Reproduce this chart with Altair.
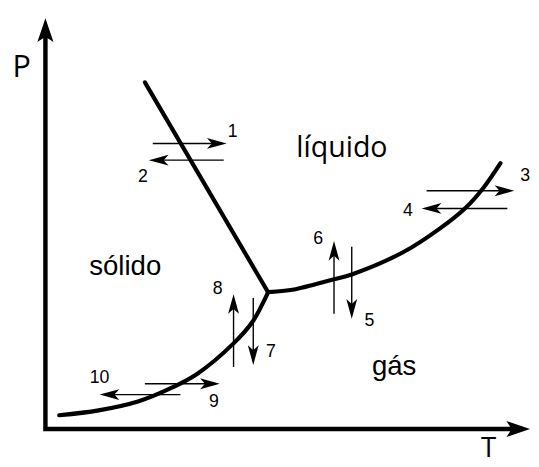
import altair as alt
import pandas as pd

# ---------------- data (diagram units: T to the right, P upward; origin = axes corner)
fusion_T = [101, 226]
fusion_P = [352, 139]
vapor_T = [226, 254, 274, 293, 311, 364, 401, 427, 444, 462]
vapor_P = [139, 142, 147, 152, 157, 180, 204, 225, 244, 270]
subl_T = [14, 54, 94, 124, 154, 191, 211, 226]
subl_P = [14, 19, 28, 40, 56, 87, 110, 139]

axis_T = [0, 0, 476]
axis_P = [399, 0, 0]
axis_tip_T = [0, 492]
axis_tip_P = [417, 0]
axis_tip_dir = ["up", "right"]

arrow_id = ["1", "2", "3", "4", "5", "6", "7", "8", "9", "10"]
arrow_tail_T = [109, 181, 387, 469, 311, 293, 211, 191, 101, 137]
arrow_tail_P = [290, 273, 242, 224, 185, 117, 133, 63, 46, 35]
arrow_tip_T = [184, 105, 476, 382, 311, 293, 211, 191, 177, 55]
arrow_tip_P = [290, 273, 242, 224, 112, 191, 65, 137, 46, 35]
arrow_dir = ["right", "left", "right", "left", "down", "up", "down", "up", "right", "left"]

num_label_T = [190, 99, 487, 368, 329, 277, 229, 175, 171, 55]
num_label_P = [302, 256, 257, 221, 110, 193, 78, 142, 27, 52]

phase_text = ["líquido", "sólido", "gás"]
phase_T = [301, 81, 354]
phase_P = [276, 156, 55]
phase_font = ["Open Sans", "Liberation Sans", "Liberation Sans"]
phase_size = [29, 28, 28]

axis_text = ["P", "T"]
axis_text_T = [-24, 450]
axis_text_P = [357, -28]
axis_text_size = [31, 28]

# ---------------- helper tables
DIRS = {"right": (1, 0, 0), "left": (-1, 0, 180), "up": (0, 1, 270), "down": (0, -1, 90)}

curves = pd.concat([
    pd.DataFrame({"curve": "fusion", "T": fusion_T, "P": fusion_P, "o": range(len(fusion_T))}),
    pd.DataFrame({"curve": "vapor", "T": vapor_T, "P": vapor_P, "o": range(len(vapor_T))}),
    pd.DataFrame({"curve": "subl", "T": subl_T, "P": subl_P, "o": range(len(subl_T))}),
])

axes_df = pd.DataFrame({"T": axis_T, "P": axis_P, "o": range(len(axis_T))})

AX_HALF = 12
axis_heads = pd.DataFrame({
    "T": [t - DIRS[d][0] * AX_HALF for t, d in zip(axis_tip_T, axis_tip_dir)],
    "P": [p - DIRS[d][1] * AX_HALF for p, d in zip(axis_tip_P, axis_tip_dir)],
    "ang": [DIRS[d][2] for d in axis_tip_dir],
})

HEAD_HALF = 10
arrows = pd.DataFrame({
    "id": arrow_id,
    "T0": arrow_tail_T,
    "P0": arrow_tail_P,
    "T1": [t - DIRS[d][0] * 12 for t, d in zip(arrow_tip_T, arrow_dir)],
    "P1": [p - DIRS[d][1] * 12 for p, d in zip(arrow_tip_P, arrow_dir)],
    "Tc": [t - DIRS[d][0] * HEAD_HALF for t, d in zip(arrow_tip_T, arrow_dir)],
    "Pc": [p - DIRS[d][1] * HEAD_HALF for p, d in zip(arrow_tip_P, arrow_dir)],
    "ang": [DIRS[d][2] for d in arrow_dir],
})

num_labels = pd.DataFrame({"txt": arrow_id, "T": num_label_T, "P": num_label_P})
phases = pd.DataFrame({"txt": phase_text, "T": phase_T, "P": phase_P,
                       "font": phase_font, "size": phase_size})
axis_labels = pd.DataFrame({"txt": axis_text, "T": axis_text_T, "P": axis_text_P,
                            "size": axis_text_size})

# ---------------- scales (1 diagram unit = 1 px)
W, H = 531, 459
xs = alt.Scale(domain=[-38, 493], nice=False, zero=False)
ys = alt.Scale(domain=[-35, 424], nice=False, zero=False)


def X(f):
    return alt.X(f, type="quantitative", scale=xs, axis=None)


def Y(f):
    return alt.Y(f, type="quantitative", scale=ys, axis=None)


ARROW_R = "M1,0L-1,-0.55L-0.5,0L-1,0.55Z"
AXIS_R = "M1,0L-1,-0.68L-0.55,0L-1,0.68Z"

axes_line = alt.Chart(axes_df).mark_line(
    color="black", strokeWidth=4.5, strokeJoin="miter", strokeCap="butt"
).encode(x=X("T"), y=Y("P"), order="o:Q")

axes_heads = alt.Chart(axis_heads).mark_point(
    shape=AXIS_R, filled=True, size=AX_HALF * AX_HALF * 4, color="black",
    opacity=1, strokeWidth=0
).encode(x=X("T"), y=Y("P"), angle=alt.Angle("ang:Q", scale=None))

curve_lines = alt.Chart(curves).mark_line(
    color="black", strokeWidth=4.2, interpolate="catmull-rom", strokeCap="round"
).encode(x=X("T"), y=Y("P"), detail="curve:N", order="o:Q")

arrow_lines = alt.Chart(arrows).mark_rule(color="black", strokeWidth=1.4).encode(
    x=X("T0"), x2="T1", y=Y("P0"), y2="P1"
)

arrow_heads = alt.Chart(arrows).mark_point(
    shape=ARROW_R, filled=True, size=HEAD_HALF * HEAD_HALF * 4, color="black",
    opacity=1, strokeWidth=0
).encode(x=X("Tc"), y=Y("Pc"), angle=alt.Angle("ang:Q", scale=None))

num_text = alt.Chart(num_labels).mark_text(
    font="Liberation Sans", fontSize=18, color="black", align="center", baseline="middle"
).encode(x=X("T"), y=Y("P"), text="txt:N")

phase_layers = [
    alt.Chart(phases[phases.txt == t]).mark_text(
        font=f, fontSize=s, color="black", align="center", baseline="alphabetic"
    ).encode(x=X("T"), y=Y("P"), text="txt:N")
    for t, f, s in zip(phase_text, phase_font, phase_size)
]

axis_text_layers = [
    alt.Chart(axis_labels[axis_labels.txt == t]).mark_text(
        font="Open Sans", fontSize=s, color="black", align="center", baseline="alphabetic"
    ).encode(x=X("T"), y=Y("P"), text="txt:N")
    for t, s in zip(axis_text, axis_text_size)
]

chart = alt.layer(
    axes_line, axes_heads, curve_lines, arrow_lines, arrow_heads,
    num_text, *phase_layers, *axis_text_layers
).properties(
    width=W, height=H, padding=0, background="white",
    autosize=alt.AutoSizeParams(type="none")
).configure_view(stroke=None)

chart.save("out.html", embed_options={"renderer": "svg", "actions": False})
